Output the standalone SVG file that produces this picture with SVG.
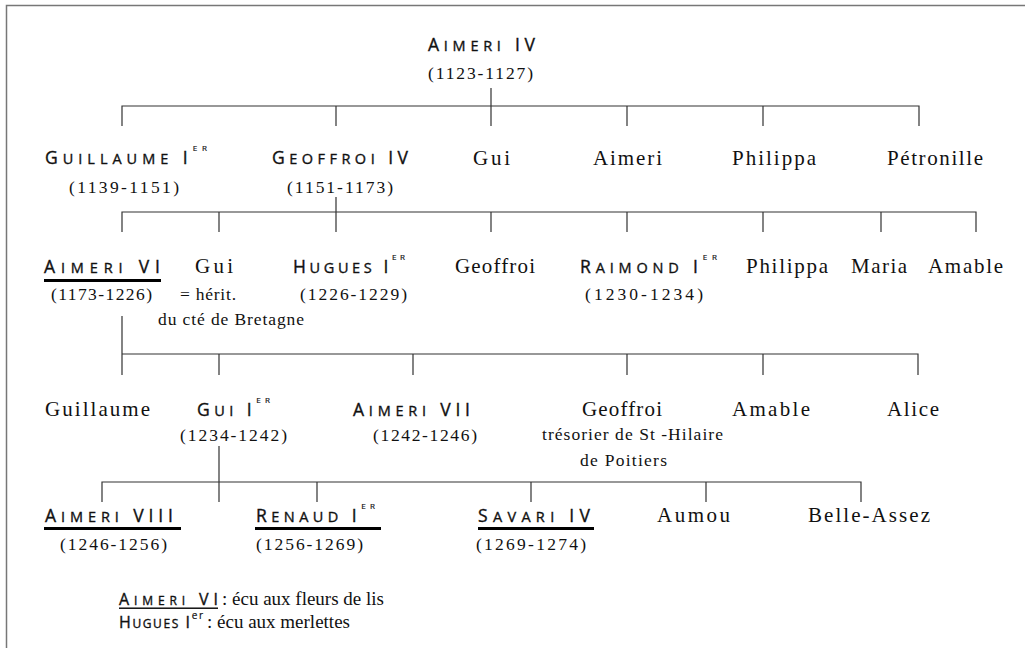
<svg xmlns="http://www.w3.org/2000/svg" width="1025" height="648" viewBox="0 0 1025 648">
<style>
text{fill:#111}
.sc{font-family:"Open Sans","DejaVu Sans",sans-serif;font-size:17.5px;stroke:#111;stroke-width:0.35}
.b{font-size:17.5px}
.s{font-size:14.5px}
.sup{font-size:8px;stroke-width:0.2}
.lg .b{font-size:16px}
.lg .s{font-size:12px}
.lg .sup{font-size:10px}
.n{font-family:"Liberation Serif","Times New Roman",serif;font-size:21px}
.d{font-family:"Liberation Serif","Times New Roman",serif;font-size:17.5px}
.nt{font-family:"Liberation Serif","Times New Roman",serif;font-size:17.5px}
.lt{font-family:"Liberation Serif","Times New Roman",serif;font-size:19px}
.ln{stroke:#333;stroke-width:1.2;fill:none}
.ul{fill:#000}
</style>
<path d="M6.5 648V5.5H1025" fill="none" stroke="#777" stroke-width="1.5"/>
<g id="connectors" class="ln">
<path d="M491 88V126M122 126V106H919V126M336 106V126M627 106V126M763 106V126"/>
<path d="M336 197V232M122 232V212H976V232M219 212V232M491 212V232M627 212V232M763 212V232M881 212V232"/>
<path d="M122 316V375M122 354H918V375M219 354V375M413 354V375M627 354V375M763 354V375"/>
<path d="M219 446V502M102 502V482H861V502M317 482V502M531 482V502M706 482V502"/>
</g>
<g id="aimeri4"><text class="sc" x="428" y="51" textLength="107" lengthAdjust="spacing"><tspan class="b">A</tspan><tspan class="s">IMERI</tspan><tspan class="b"> IV</tspan></text><text class="d" x="428" y="79" textLength="105" lengthAdjust="spacing">(1123-1127)</text></g>
<g id="guillaume1"><text class="sc" x="45" y="164" textLength="162" lengthAdjust="spacing"><tspan class="b">G</tspan><tspan class="s">UILLAUME</tspan><tspan class="b"> I</tspan><tspan class="sup" dy="-13">ER</tspan></text><text class="d" x="69" y="193" textLength="110" lengthAdjust="spacing">(1139-1151)</text></g>
<g id="geoffroi4"><text class="sc" x="272" y="164" textLength="136" lengthAdjust="spacing"><tspan class="b">G</tspan><tspan class="s">EOFFROI</tspan><tspan class="b"> IV</tspan></text><text class="d" x="287" y="193" textLength="106" lengthAdjust="spacing">(1151-1173)</text></g>
<g id="gui-a"><text class="n" x="473" y="165" textLength="37" lengthAdjust="spacing">Gui</text></g>
<g id="aimeri-a"><text class="n" x="593" y="165" textLength="69" lengthAdjust="spacing">Aimeri</text></g>
<g id="philippa-a"><text class="n" x="732" y="165" textLength="84" lengthAdjust="spacing">Philippa</text></g>
<g id="petronille"><text class="n" x="887" y="165" textLength="96" lengthAdjust="spacing">Pétronille</text></g>
<g id="aimeri6"><text class="sc" x="44" y="273" textLength="116" lengthAdjust="spacing"><tspan class="b">A</tspan><tspan class="s">IMERI</tspan><tspan class="b"> VI</tspan></text><rect class="ul" x="44" y="279" width="117" height="3"/><text class="d" x="51" y="300" textLength="101" lengthAdjust="spacing">(1173-1226)</text></g>
<g id="gui-b"><text class="n" x="195" y="273" textLength="38" lengthAdjust="spacing">Gui</text><text class="nt" x="180" y="300" textLength="56" lengthAdjust="spacing">= hérit.</text><text class="nt" x="158" y="325" textLength="146" lengthAdjust="spacing">du cté de Bretagne</text></g>
<g id="hugues1"><text class="sc" x="293" y="273" textLength="112" lengthAdjust="spacing"><tspan class="b">H</tspan><tspan class="s">UGUES</tspan><tspan class="b"> I</tspan><tspan class="sup" dy="-13">ER</tspan></text><text class="d" x="300" y="300" textLength="107" lengthAdjust="spacing">(1226-1229)</text></g>
<g id="geoffroi-b"><text class="n" x="455" y="273" textLength="80" lengthAdjust="spacing">Geoffroi</text></g>
<g id="raimond1"><text class="sc" x="580" y="273" textLength="137" lengthAdjust="spacing"><tspan class="b">R</tspan><tspan class="s">AIMOND</tspan><tspan class="b"> I</tspan><tspan class="sup" dy="-13">ER</tspan></text><text class="d" x="585" y="300" textLength="118" lengthAdjust="spacing">(1230-1234)</text></g>
<g id="philippa-b"><text class="n" x="746" y="273" textLength="82" lengthAdjust="spacing">Philippa</text></g>
<g id="maria"><text class="n" x="851" y="273" textLength="56" lengthAdjust="spacing">Maria</text></g>
<g id="amable-b"><text class="n" x="928" y="273" textLength="75" lengthAdjust="spacing">Amable</text></g>
<g id="guillaume-c"><text class="n" x="45" y="416" textLength="105" lengthAdjust="spacing">Guillaume</text></g>
<g id="gui1"><text class="sc" x="197" y="416" textLength="73" lengthAdjust="spacing"><tspan class="b">G</tspan><tspan class="s">UI</tspan><tspan class="b"> I</tspan><tspan class="sup" dy="-13">ER</tspan></text><text class="d" x="180" y="441" textLength="107" lengthAdjust="spacing">(1234-1242)</text></g>
<g id="aimeri7"><text class="sc" x="353" y="416" textLength="117" lengthAdjust="spacing"><tspan class="b">A</tspan><tspan class="s">IMERI</tspan><tspan class="b"> VII</tspan></text><text class="d" x="373" y="441" textLength="104" lengthAdjust="spacing">(1242-1246)</text></g>
<g id="geoffroi-c"><text class="n" x="582" y="416" textLength="80" lengthAdjust="spacing">Geoffroi</text><text class="nt" x="542" y="440" textLength="181" lengthAdjust="spacing">trésorier de St -Hilaire</text><text class="nt" x="580" y="466" textLength="87" lengthAdjust="spacing">de Poitiers</text></g>
<g id="amable-c"><text class="n" x="732" y="416" textLength="78" lengthAdjust="spacing">Amable</text></g>
<g id="alice"><text class="n" x="887" y="416" textLength="52" lengthAdjust="spacing">Alice</text></g>
<g id="aimeri8"><text class="sc" x="45" y="522" textLength="128" lengthAdjust="spacing"><tspan class="b">A</tspan><tspan class="s">IMERI</tspan><tspan class="b"> VIII</tspan></text><rect class="ul" x="44" y="527" width="137" height="3"/><text class="d" x="60" y="550" textLength="107" lengthAdjust="spacing">(1246-1256)</text></g>
<g id="renaud1"><text class="sc" x="256" y="522" textLength="119" lengthAdjust="spacing"><tspan class="b">R</tspan><tspan class="s">ENAUD</tspan><tspan class="b"> I</tspan><tspan class="sup" dy="-13">ER</tspan></text><rect class="ul" x="255" y="527" width="126" height="3"/><text class="d" x="256" y="550" textLength="107" lengthAdjust="spacing">(1256-1269)</text></g>
<g id="savari4"><text class="sc" x="478" y="522" textLength="112" lengthAdjust="spacing"><tspan class="b">S</tspan><tspan class="s">AVARI</tspan><tspan class="b"> IV</tspan></text><rect class="ul" x="478" y="527" width="116" height="3"/><text class="d" x="476" y="550" textLength="110" lengthAdjust="spacing">(1269-1274)</text></g>
<g id="aumou"><text class="n" x="657" y="522" textLength="73" lengthAdjust="spacing">Aumou</text></g>
<g id="belle-assez"><text class="n" x="808" y="522" textLength="122" lengthAdjust="spacing">Belle-Assez</text></g>
<g id="legend" class="lg">
<text class="sc" x="119" y="605" textLength="99" lengthAdjust="spacing"><tspan class="b">A</tspan><tspan class="s">IMERI</tspan><tspan class="b"> VI</tspan></text><rect class="ul" x="119" y="607.5" width="99" height="1.4"/>
<text class="lt" x="222" y="605">: écu aux fleurs de lis</text>
<text class="sc" x="119" y="628" textLength="84" lengthAdjust="spacing"><tspan class="b">H</tspan><tspan class="s">UGUES</tspan><tspan class="b"> I</tspan><tspan class="sup" dy="-9">er</tspan></text>
<text class="lt" x="207" y="628">: écu aux merlettes</text>
</g>
</svg>
